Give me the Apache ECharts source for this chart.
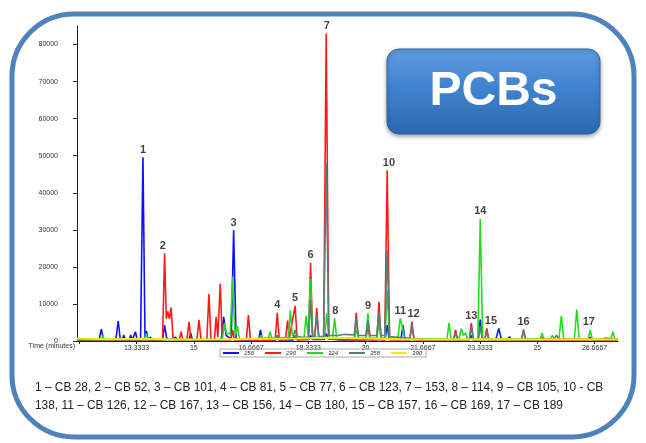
<!DOCTYPE html>
<html><head><meta charset="utf-8">
<script src="https://cdn.jsdelivr.net/npm/echarts@6/dist/echarts.min.js"></script>
<style>html,body{margin:0;padding:0;background:#fff}#c{width:646px;height:443px}</style>
</head><body><div id="c"></div>
<script>
// ---- data ----
const seriesNames = ['256', '290', '324', '358', '390'];
const yTicks = [0, 10000, 20000, 30000, 40000, 50000, 60000, 70000, 80000];
const xTicks = [11.6667, 13.3333, 15, 16.6667, 18.3333, 20, 21.6667, 23.3333, 25, 26.6667];
const xTickLabels = ['', '13.3333', '15', '16.6667', '18.3333', '20', '21.6667', '23.3333', '25', '26.6667'];

const ion256 = [[11.6,300],[12.24,300],[12.31,3200],[12.37,300],[12.73,300],[12.80,5400],[12.86,400],[12.92,300],[12.96,1600],[13.01,300],[13.12,300],[13.16,1600],[13.21,300],[13.26,400],[13.30,2500],[13.35,400],[13.45,300],[13.52,49600],[13.58,800],[13.62,2700],[13.67,400],[13.74,1000],[13.79,300],[14.09,300],[14.15,4300],[14.21,800],[14.30,300],[14.47,1000],[14.52,300],[14.86,300],[14.91,2200],[14.96,300],[15.80,300],[15.87,6500],[15.94,1500],[16.09,500],[16.16,29900],[16.23,600],[16.40,300],[16.89,300],[16.94,3000],[17.00,300],[17.38,300],[17.43,1500],[17.48,300],[17.90,300],[17.95,1500],[18.00,400],[18.35,400],[18.40,1500],[18.45,400],[18.80,400],[18.855,2000],[18.92,600],[19.30,300],[20.57,400],[20.63,4300],[20.69,500],[21.03,400],[21.09,4300],[21.15,400],[23.02,300],[23.08,1500],[23.13,300],[23.28,400],[23.34,5800],[23.40,400],[23.79,300],[23.88,3400],[23.96,300],[24.14,300],[24.19,1200],[24.24,300],[26.48,300],[26.54,1000],[26.60,300],[27.35,300]];

const ion290 = [[11.6,200],[14.09,300],[14.15,23700],[14.20,6000],[14.24,8000],[14.29,6000],[14.34,9000],[14.40,300],[14.58,300],[14.63,2500],[14.68,300],[14.80,300],[14.86,5200],[14.92,300],[15.09,300],[15.15,5700],[15.21,300],[15.38,300],[15.44,12700],[15.50,300],[15.60,300],[15.65,6500],[15.70,1000],[15.77,15500],[15.83,300],[16.08,300],[16.13,3000],[16.18,300],[16.53,300],[16.59,7000],[16.65,300],[17.37,300],[17.43,7600],[17.49,300],[17.67,300],[17.73,5500],[17.78,800],[17.95,9500],[18.01,300],[18.34,400],[18.40,21100],[18.46,500],[18.52,500],[18.58,8900],[18.64,500],[18.78,500],[18.855,83000],[18.93,500],[19.67,300],[19.73,7600],[19.79,300],[20.01,300],[20.07,4300],[20.13,300],[20.33,300],[20.39,10600],[20.45,300],[20.56,300],[20.63,46100],[20.70,300],[21.29,300],[21.35,5200],[21.41,300],[22.56,300],[22.62,3000],[22.68,300],[23.02,300],[23.08,4800],[23.14,300],[23.47,300],[23.53,3400],[23.59,300],[24.54,300],[24.60,3100],[24.66,300],[25.09,300],[25.14,1000],[25.19,300],[27.35,300]];

const ion324 = [[11.6,400],[12.30,400],[12.35,1500],[12.40,400],[13.57,400],[13.62,2000],[13.67,400],[15.83,400],[15.895,4800],[15.95,2000],[16.06,2000],[16.13,17300],[16.20,1500],[16.27,4000],[16.33,500],[16.90,500],[16.96,1500],[17.02,500],[17.16,500],[17.22,2500],[17.28,500],[17.75,600],[17.81,8300],[17.87,1500],[18.21,800],[18.27,6800],[18.33,1500],[18.40,16700],[18.46,1000],[18.81,1000],[18.87,7500],[18.93,1000],[19.04,800],[19.10,6100],[19.16,800],[19.67,800],[19.73,3000],[19.79,800],[20.01,800],[20.07,7500],[20.13,800],[20.33,800],[20.39,5000],[20.45,800],[20.57,800],[20.63,13700],[20.70,800],[20.94,800],[21.01,6100],[21.07,4000],[21.14,600],[22.37,500],[22.43,4900],[22.49,600],[22.72,600],[22.79,3400],[22.85,1500],[22.91,2200],[22.97,500],[23.27,500],[23.34,33000],[23.41,500],[25.08,500],[25.14,2100],[25.20,500],[25.38,500],[25.44,1500],[25.50,500],[25.63,500],[25.70,6700],[25.77,500],[26.08,500],[26.15,8500],[26.22,500],[26.48,500],[26.54,3000],[26.60,500],[27.14,500],[27.20,2500],[27.26,500],[27.35,500]];

const ion358 = [[11.6,300],[16.50,400],[17.20,800],[17.38,800],[17.43,1500],[17.48,800],[17.89,900],[17.95,3000],[18.01,1000],[18.34,1000],[18.40,11000],[18.46,1200],[18.52,1200],[18.58,7000],[18.64,1200],[18.78,1200],[18.855,48000],[18.93,1500],[19.20,1500],[19.40,1800],[19.67,1600],[19.73,6200],[19.79,1500],[20.01,1500],[20.07,5600],[20.13,1500],[20.33,1500],[20.39,7900],[20.45,1500],[20.56,1500],[20.63,24500],[20.70,1200],[21.29,700],[21.35,4300],[21.41,600],[22.00,400],[22.56,400],[22.62,2000],[22.68,400],[23.02,400],[23.08,3900],[23.14,400],[23.28,400],[23.34,4000],[23.40,400],[23.47,400],[23.53,2500],[23.59,400],[24.54,400],[24.60,2700],[24.66,400],[25.50,500],[25.55,1500],[25.65,600],[26.80,400],[27.00,800],[27.35,400]];

const ion390 = [[11.6,700],[12.5,500],[13.5,600],[14.5,400],[16.0,500],[17.0,600],[18.0,700],[19.0,900],[20.0,700],[21.0,500],[22.0,400],[23.5,500],[25.0,400],[26.5,500],[27.35,400]];

const peakLabels = [
  ['1', 13.52, 49600], ['2', 14.10, 23700], ['3', 16.16, 29900], ['4', 17.43, 7600],
  ['5', 17.95, 9500], ['6', 18.40, 21100], ['7', 18.87, 83000], ['8', 19.12, 6100],
  ['9', 20.07, 7500], ['10', 20.68, 46100], ['11', 21.01, 6100], ['12', 21.40, 5200],
  ['13', 23.08, 4800], ['14', 23.34, 33000], ['15', 23.65, 3400], ['16', 24.60, 3100],
  ['17', 26.50, 3000]
];

const compoundText1 = '1 – CB 28, 2 – CB 52, 3 – CB 101, 4 – CB 81, 5 – CB 77, 6 – CB 123, 7 – 153, 8 – 114, 9 – CB 105, 10 - CB';
const compoundText2 = '138, 11 – CB 126, 12 – CB 167, 13 – CB 156, 14 – CB 180, 15 – CB 157, 16 – CB 169, 17 – CB 189';

// ---- chart ----
const colors = ['#1010ff', '#ff1a1a', '#22dd22', '#5d7d7d', '#eeee00'];
const traces = [ion256, ion290, ion324, ion358, ion390];
const chart = echarts.init(document.getElementById('c'), null, {renderer: 'canvas'});

const series = traces.map((d, i) => ({
  name: seriesNames[i], type: 'line', data: d, showSymbol: false, symbol: 'none',
  lineStyle: {color: colors[i], width: i === 4 ? 2 : 1.6}, itemStyle: {color: colors[i]},
  z: 2 + i, silent: true, animation: false
}));
series.push({
  type: 'scatter', data: peakLabels.map(p => ({value: [p[1], p[2]], name: p[0]})),
  symbolSize: 0, z: 10, animation: false, silent: true,
  label: {show: true, position: 'top', distance: 2, formatter: p => p.name,
          fontFamily: 'Liberation Sans, Arial', fontWeight: 'bold', fontSize: 11, color: '#111'}
});

chart.setOption({
  animation: false,
  backgroundColor: '#fff',
  grid: {left: 77, right: 28, top: 26, bottom: 102, containLabel: false},
  legend: {
    data: seriesNames, left: 220, top: 349, icon: 'rect', itemWidth: 16, itemHeight: 2,
    itemGap: 11, padding: [1, 4, 1, 3], borderColor: '#aaa', borderWidth: 1,
    textStyle: {fontSize: 6, fontStyle: 'italic', color: '#333', fontFamily: 'Liberation Sans, Arial'}
  },
  xAxis: {
    type: 'value', min: 11.6, max: 27.35,
    splitLine: {show: false},
    axisLine: {show: true, lineStyle: {color: '#222', width: 1}},
    axisTick: {show: true, length: 3, customValues: xTicks, lineStyle: {color: '#222'}},
    axisLabel: {customValues: xTicks, margin: 4, fontSize: 7, color: '#333', fontFamily: 'Liberation Sans, Arial',
      formatter: v => { const k = xTicks.findIndex(t => Math.abs(t - v) < 1e-3); return k >= 0 ? xTickLabels[k] : ''; }}
  },
  yAxis: {
    type: 'value', min: 0, max: 85000,
    splitLine: {show: false},
    axisLine: {show: true, lineStyle: {color: '#222', width: 1}},
    axisTick: {show: true, length: 4, customValues: yTicks, lineStyle: {color: '#222'}},
    axisLabel: {customValues: yTicks, margin: 19, fontSize: 7, color: '#333', fontFamily: 'Liberation Sans, Arial',
      formatter: v => String(Math.round(v))}
  },
  series: series,
  graphic: [
    {type: 'rect', shape: {x: 12, y: 14, width: 622, height: 423, r: 62}, z: 100, silent: true,
     style: {fill: 'none', stroke: '#4f81bd', lineWidth: 5}},
    {type: 'rect', shape: {x: 387, y: 49, width: 213, height: 85, r: 12}, z: 100, silent: true,
     style: {fill: new echarts.graphic.LinearGradient(0, 0, 0, 1, [{offset: 0, color: '#5c9de2'}, {offset: 0.5, color: '#3f80cc'}, {offset: 1, color: '#2d68b0'}]),
             stroke: '#2f62a3', lineWidth: 1, shadowBlur: 4, shadowColor: 'rgba(0,0,0,0.35)', shadowOffsetY: 2}},
    {type: 'text', x: 493.5, y: 92, z: 101, silent: true,
     style: {text: 'PCBs', fill: '#fff', font: 'bold 48px "Liberation Sans", Arial', align: 'center', verticalAlign: 'middle'}},
    {type: 'text', x: 75, y: 346, z: 101, silent: true,
     style: {text: 'Time (minutes)', fill: '#333', font: '7px "Liberation Sans", Arial', align: 'right', verticalAlign: 'middle'}},
    {type: 'text', x: 35, y: 388, z: 101, silent: true,
     style: {text: compoundText1, fill: '#222', font: '11.9px "Liberation Sans", Arial', verticalAlign: 'middle'}},
    {type: 'text', x: 35, y: 406, z: 101, silent: true,
     style: {text: compoundText2, fill: '#222', font: '11.9px "Liberation Sans", Arial', verticalAlign: 'middle'}}
  ]
});
</script></body></html>
